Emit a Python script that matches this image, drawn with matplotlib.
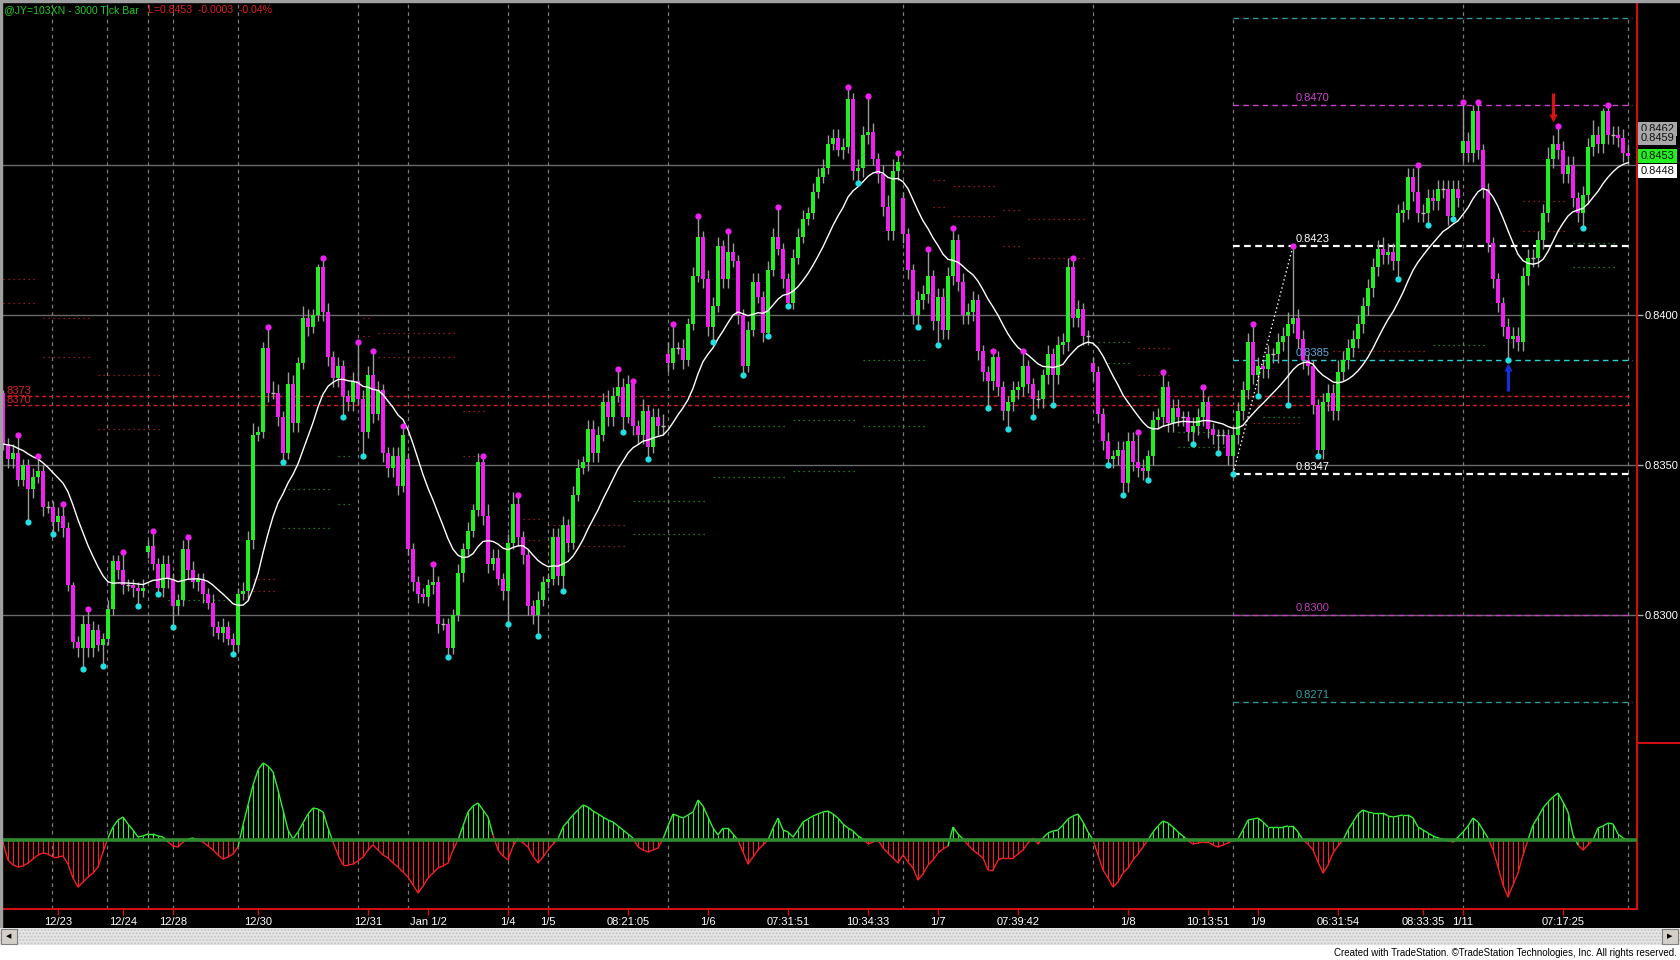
import numpy as np
import pandas as pd
import matplotlib
matplotlib.use("Agg")
import matplotlib.pyplot as plt
from matplotlib.collections import LineCollection
from matplotlib.patches import Rectangle
from matplotlib.lines import Line2D

plt.rcParams['font.family'] = ['Liberation Sans', 'DejaVu Sans']

# ---------------- data ----------------
closes = [
    0.8357, 0.8352, 0.8354, 0.8345, 0.8350, 0.8342, 0.8346, 0.8348, 0.8336, 0.8336,
    0.8331, 0.8333, 0.8329, 0.8310, 0.8291, 0.8289, 0.8297, 0.8289, 0.8295, 0.8290,
    0.8292, 0.8302, 0.8318, 0.8315, 0.8310, 0.8310, 0.8309, 0.8308, 0.8309, 0.8323,
    0.8317, 0.8309, 0.8317, 0.8312, 0.8303, 0.8305, 0.8322, 0.8315, 0.8311, 0.8312,
    0.8307, 0.8304, 0.8296, 0.8294, 0.8296, 0.8292, 0.8290, 0.8307, 0.8308, 0.8325,
    0.8360, 0.8361, 0.8389, 0.8374, 0.8374, 0.8366, 0.8354, 0.8377, 0.8364, 0.8384,
    0.8399, 0.8396, 0.8400, 0.8416, 0.8401, 0.8386, 0.8379, 0.8383, 0.8373, 0.8371,
    0.8378, 0.8372, 0.8361, 0.8380, 0.8367, 0.8375, 0.8354, 0.8349, 0.8353, 0.8343,
    0.8360, 0.8322, 0.8311, 0.8307, 0.8306, 0.8310, 0.8311, 0.8297, 0.8297, 0.8289,
    0.8300, 0.8314, 0.8322, 0.8328, 0.8335, 0.8351, 0.8333, 0.8317, 0.8319, 0.8312,
    0.8308, 0.8324, 0.8337, 0.8326, 0.8320, 0.8303, 0.8300, 0.8305, 0.8311, 0.8312,
    0.8326, 0.8313, 0.8330, 0.8324, 0.8340, 0.8349, 0.8351, 0.8362, 0.8354, 0.8360,
    0.8371, 0.8366, 0.8373, 0.8376, 0.8366, 0.8377, 0.8363, 0.8360, 0.8368, 0.8356,
    0.8366, 0.8363, 0.8363, 0.8384, 0.8389, 0.8389, 0.8385, 0.8397, 0.8413, 0.8426,
    0.8412, 0.8396, 0.8403, 0.8423, 0.8412, 0.8421, 0.8418, 0.8400, 0.8383, 0.8395,
    0.8411, 0.8406, 0.8394, 0.8415, 0.8426, 0.8422, 0.8412, 0.8404, 0.8419, 0.8426,
    0.8432, 0.8434, 0.8441, 0.8446, 0.8449, 0.8457, 0.8459, 0.8455, 0.8456, 0.8472,
    0.8448, 0.8449, 0.8460, 0.8461, 0.8452, 0.8447, 0.8436, 0.8428, 0.8448, 0.8451,
    0.8427, 0.8415, 0.8400, 0.8405, 0.8407, 0.8413, 0.8398, 0.8406, 0.8395, 0.8413,
    0.8425, 0.8411, 0.8400, 0.8401, 0.8405, 0.8388, 0.8381, 0.8378, 0.8386, 0.8376,
    0.8368, 0.8371, 0.8375, 0.8376, 0.8383, 0.8377, 0.8372, 0.8372, 0.8380, 0.8387,
    0.8380, 0.8390, 0.8391, 0.8416, 0.8399, 0.8402, 0.8393, 0.8393, 0.8381, 0.8367,
    0.8358, 0.8352, 0.8353, 0.8355, 0.8344, 0.8358, 0.8351, 0.8349, 0.8348, 0.8353,
    0.8365, 0.8366, 0.8376, 0.8364, 0.8369, 0.8366, 0.8366, 0.8361, 0.8363, 0.8366,
    0.8371, 0.8362, 0.8360, 0.8360, 0.8360, 0.8353, 0.8360, 0.8368, 0.8375, 0.8391,
    0.8380, 0.8383, 0.8382, 0.8387, 0.8387, 0.8391, 0.8393, 0.8397, 0.8399, 0.8392,
    0.8385, 0.8383, 0.8370, 0.8355, 0.8371, 0.8374, 0.8368, 0.8381, 0.8385, 0.8389,
    0.8392, 0.8397, 0.8403, 0.8409, 0.8416, 0.8422, 0.8420, 0.8421, 0.8418, 0.8434,
    0.8435, 0.8446, 0.8441, 0.8434, 0.8434, 0.8439, 0.8438, 0.8442, 0.8442, 0.8433,
    0.8442, 0.8439, 0.8458, 0.8454, 0.8468, 0.8455, 0.8442, 0.8424, 0.8412, 0.8404,
    0.8396, 0.8392, 0.8393, 0.8391, 0.8413, 0.8419, 0.8419, 0.8425, 0.8434, 0.8452,
    0.8457, 0.8455, 0.8447, 0.8450, 0.8439, 0.8434, 0.8440, 0.8456, 0.8460, 0.8457,
    0.8468, 0.8460, 0.8460, 0.8459, 0.8454, 0.8453,
]
# session-start bars whose open differs from the prior close
gap_opens = {0: 0.8374, 29: 0.8321, 81: 0.8352, 133: 0.8387, 180: 0.8439, 218: 0.8384, 292: 0.8454}

# wick lengths in pips (0.0001)
wick_up = [
    1,2,3,6,2,2,3,5,2,2, 2,3,4,2,1,2,3,5,3,2,
    2,3,2,2,6,2,2,2,3,2, 5,2,3,3,2,2,3,4,3,2,
    2,2,3,2,3,2,2,2,3,3, 4,2,2,7,4,3,2,4,3,2,
    4,3,2,1,3,3,2,3,2,2, 3,13,3,3,8,3,2,2,3,3,
    3,2,2,2,2,2,6,2,2,2, 2,3,2,3,2,3,2,4,3,3,
    2,3,4,3,2,2,2,3,2,2, 3,3,3,2,3,3,2,3,3,3,
    3,4,3,6,3,3,1,2,4,2, 3,3,4,4,8,2,3,2,3,7,
    2,3,3,3,2,7,3,2,2,3, 3,3,2,3,3,10,2,2,3,3,
    3,2,3,3,3,3,3,3,3,4, 2,3,3,12,3,2,3,4,4,3,
    2,2,2,3,3,9,2,3,3,3, 4,2,3,3,3,2,2,2,2,2,
    2,2,3,2,5,2,2,3,2,3, 2,3,3,3,3,3,2,2,2,2,
    2,3,2,3,3,3,3,10,3,2, 3,3,5,2,3,3,2,2,3,3,
    5,2,2,2,2,2,3,3,3,3, 6,3,2,3,2,3,3,4,24,3,
    3,2,2,2,3,3,3,4,3,3, 3,3,3,3,3,3,4,3,3,3,
    3,3,3,9,3,3,3,3,3,3, 3,3,13,3,2,3,2,2,2,2,
    2,3,3,3,3,3,3,3,3,4, 3,6,3,3,3,2,3,3,5,3,
    1,2,3,3,3,3,
]
wick_dn = [
    2,3,3,2,2,11,3,2,3,2, 4,3,3,2,2,3,7,3,3,2,
    7,2,2,3,3,2,3,5,2,2, 2,2,3,3,7,3,2,3,2,3,
    3,2,3,2,3,2,3,2,2,3, 3,2,2,3,2,3,3,2,3,3,
    2,3,2,2,3,3,3,3,7,3, 3,2,8,2,3,2,3,3,3,3,
    2,2,3,3,2,3,3,3,2,3, 2,2,3,2,2,2,3,3,2,2,
    3,11,2,3,3,3,3,7,2,2, 2,3,5,3,2,2,2,3,3,3,
    2,3,3,2,5,2,3,3,3,4, 2,3,3,3,2,2,3,2,2,2,
    3,3,5,2,3,3,2,3,3,2, 2,2,3,1,2,2,3,1,2,2,
    2,2,2,2,2,2,2,2,3,2, 3,4,3,3,2,3,3,3,3,3,
    3,3,3,4,3,3,3,8,3,3, 3,3,3,3,3,3,3,9,3,3,
    3,6,3,3,3,3,6,3,3,3, 10,3,3,3,3,3,3,3,3,3,
    3,2,3,3,4,3,3,3,3,3, 3,3,3,3,3,3,3,3,4,3,
    3,3,3,6,3,3,6,3,3,3, 3,7,3,3,3,3,3,23,3,3,
    3,3,3,2,3,3,3,3,3,3, 3,3,3,3,3,3,3,3,3,6,
    3,3,3,3,3,4,3,3,3,3, 1,3,3,3,3,3,3,3,3,3,
    3,7,3,3,3,3,3,3,3,3, 3,3,3,3,3,3,5,3,3,3,
    3,3,3,3,3,3,
]

pivot_highs = [3, 7, 12, 17, 24, 30, 37, 53, 64, 71, 74, 80, 86, 96, 103, 123, 126, 134, 139,
               145, 155, 169, 173, 179, 185, 190, 198, 204, 214, 227, 232, 240, 250, 258, 283,
               292, 295, 311, 321]
pivot_lows = [5, 10, 16, 20, 27, 31, 34, 46, 56, 68, 72, 89, 101, 107, 112, 124, 129, 142, 148,
              153, 157, 171, 183, 187, 197, 201, 206, 210, 221, 224, 229, 238, 243, 246, 251,
              257, 263, 279, 285, 290, 301, 316]

# oscillator (lower pane)
osc = [
    -3,-20,-25,-27,-26,-23,-19,-15,-13,-14,
    -17,-17,-16,-24,-38,-47,-42,-37,-33,-27,
    -12,2,13,20,23,16,10,3,4,6,
    6,4,3,-2,-6,-7,-2,1,2,0,
    -2,-6,-10,-15,-19,-17,-14,-7,15,35,
    55,70,77,74,68,50,30,10,1,8,
    17,26,32,31,28,12,-2,-15,-25,-25,
    -24,-21,-17,-10,-5,-10,-15,-18,-23,-27,
    -32,-37,-45,-53,-46,-38,-33,-28,-26,-23,
    -10,0,14,28,34,37,30,23,5,-10,
    -16,-20,-6,2,-3,-7,-16,-23,-17,-10,
    -4,1,13,19,25,30,35,33,29,26,
    23,20,18,14,10,6,2,-7,-10,-12,
    -10,-8,1,14,26,24,22,25,28,40,
    34,23,12,5,12,12,6,0,-12,-24,
    -17,-10,-5,0,12,22,10,8,3,10,
    18,21,24,26,28,29,26,22,16,12,
    9,4,1,-4,-2,0,-8,-13,-18,-23,
    -15,-22,-28,-40,-34,-25,-20,-13,-9,-6,
    13,6,1,-5,-10,-14,-18,-30,-30,-20,
    -18,-18,-18,-14,-10,-3,2,-4,2,7,
    9,10,15,21,24,26,18,8,0,-15,
    -30,-38,-47,-42,-33,-28,-20,-14,-7,0,
    8,14,19,17,13,8,4,-1,-4,-3,
    -2,-2,-5,-7,-5,-3,0,1,10,20,
    21,22,18,13,13,13,13,14,14,8,
    0,-4,-10,-22,-33,-25,-13,-6,0,10,
    18,26,30,28,27,27,27,24,23,24,
    25,25,22,13,10,7,4,2,1,-1,
    -2,3,8,14,22,18,10,2,-10,-27,
    -45,-57,-45,-33,-15,0,15,23,32,38,
    43,47,38,28,5,-5,-10,-5,0,12,
    14,17,16,6,2,0,
]

# small dotted support/resistance segments
lvl_start = [0, 0, 8, 8, 19, 19, 33, 50, 50, 56, 56, 67, 67, 72, 72, 75, 75, 92, 92, 104, 104,
             109, 109, 126, 126, 142, 142, 158, 158, 172, 172, 186, 186, 190, 190, 200, 200,
             205, 205, 219, 221, 227, 227, 235, 235, 250, 252, 266, 286, 304, 304, 314, 314]
lvl_end = [7, 7, 18, 18, 32, 32, 46, 55, 55, 66, 66, 70, 70, 74, 74, 91, 91, 97, 97, 108, 108,
           125, 125, 141, 141, 157, 157, 171, 171, 185, 185, 189, 189, 199, 199, 204, 204,
           217, 217, 226, 226, 234, 234, 245, 245, 260, 260, 285, 297, 313, 313, 323, 323]
lvl_price = [0.8412, 0.8404, 0.8399, 0.8386, 0.8380, 0.8362, 0.8305, 0.8312, 0.8308, 0.8342,
             0.8329, 0.8353, 0.8337, 0.8399, 0.8393, 0.8394, 0.8386, 0.8368, 0.8353, 0.8332,
             0.8325, 0.8330, 0.8323, 0.8338, 0.8327, 0.8363, 0.8346, 0.8365, 0.8348, 0.8385,
             0.8363, 0.8445, 0.8436, 0.8443, 0.8433, 0.8435, 0.8423, 0.8432, 0.8419, 0.8391,
             0.8384, 0.8389, 0.8380, 0.8361, 0.8356, 0.8364, 0.8366, 0.8388, 0.8390, 0.8438,
             0.8428, 0.8424, 0.8416]
lvl_kind = ['r', 'r', 'r', 'r', 'r', 'r', 'g', 'r', 'r', 'g', 'g', 'g', 'g', 'r', 'r', 'r', 'r',
            'r', 'r', 'r', 'r', 'r', 'r', 'g', 'g', 'g', 'g', 'g', 'g', 'g', 'g', 'r', 'r', 'r',
            'r', 'r', 'r', 'r', 'r', 'g', 'g', 'r', 'r', 'g', 'g', 'r', 'g', 'r', 'g', 'r', 'r',
            'g', 'g']

# Fibonacci projection
fib_prices = [0.8499, 0.8470, 0.8423, 0.8385, 0.8347, 0.8300, 0.8271]
fib_labels = ['', '0.8470', '0.8423', '0.8385', '0.8347', '0.8300', '0.8271']
red_levels = [0.8373, 0.8370]
red_level_labels = ['8373', '8370']

# right-axis price tags
tag_prices = [0.8462, 0.8459, 0.8453, 0.8448]

# signal arrows: (bar, price at tail, price at tip)
sell_arrow = (310, 0.84740, 0.84655)
buy_arrow = (301, 0.83745, 0.83825)

day_lines = [9.8, 20.8, 29, 34, 47, 71, 81, 101, 109, 133, 180, 218, 292]
xtick_idx = [11, 24, 34, 51, 73, 85, 101, 109, 125, 141, 157, 173, 187, 203, 225, 241, 251, 267, 284, 292, 312]
xtick_labels = ['12/23', '12/24', '12/28', '12/30', '12/31', 'Jan 1/2', '1/4', '1/5', '08:21:05',
                '1/6', '07:31:51', '10:34:33', '1/7', '07:39:42', '1/8', '10:13:51', '1/9',
                '06:31:54', '08:33:35', '1/11', '07:17:25']

assert len(closes) == len(wick_up) == len(wick_dn) == len(osc), (len(closes), len(wick_up), len(wick_dn), len(osc))

# ---------------- figure ----------------
W, H = 1680, 960
fig = plt.figure(figsize=(W / 100, H / 100), dpi=100, facecolor='black')


def fx(px):
    return px / W


def fy(py):
    return 1 - py / H


ax = fig.add_axes([0, fy(743), fx(1637), 743 / H], facecolor='black')
axi = fig.add_axes([0, fy(909), fx(1637), (909 - 743) / H], facecolor='black')

n = len(closes)
idx = np.arange(n)
XL = (-0.6, 326.8)
YL = (0.825733, 0.8505)

c = np.array(closes)
o = np.r_[c[0], c[:-1]]
for k, v in gap_opens.items():
    o[k] = v
hi = np.maximum(o, c) + np.array(wick_up) * 1e-4
lo = np.minimum(o, c) - np.array(wick_dn) * 1e-4

GRID_DASH = (0, (3, 3))
# grid
for p in [0.8300, 0.8350, 0.8400, 0.8450]:
    ax.axhline(p, color='#6a6a6a', lw=1, zorder=1)
for d in day_lines:
    ax.axvline(d, color='#7a7a7a', lw=0.9, ls=GRID_DASH, zorder=1)
    axi.axvline(d, color='#7a7a7a', lw=0.9, ls=GRID_DASH, zorder=1)
ax.vlines([246, 325], YL[0], fib_prices[0], color='#7a7a7a', lw=0.9, ls=GRID_DASH, zorder=1)
for d in [246, 325]:
    axi.axvline(d, color='#7a7a7a', lw=0.9, ls=GRID_DASH, zorder=1)

# red levels
for p, lab in zip(red_levels, red_level_labels):
    ax.hlines(p, XL[0], 325.8, color='#cc2020', lw=1, ls=(0, (3, 2)), zorder=2)
    ax.text(0.8, p, lab, color='#dd2222', fontsize=8, va='bottom', ha='left', zorder=7)

# dotted S/R segments
for s, e, p, k in zip(lvl_start, lvl_end, lvl_price, lvl_kind):
    ax.hlines(p, s, e, color='#c02020' if k == 'r' else '#22a022', lw=0.9,
              ls=(0, (1, 3)), zorder=2)

# fib
fib_line_colors = ['#2a9a9a', '#d040d0', '#ffffff', '#30d0d0', '#ffffff', '#c040c0', '#2a9a9a']
fib_text_colors = ['#2a9a9a', '#d040d0', '#ffffff', '#5fa8e0', '#ffffff', '#c040c0', '#30a0a0']
for p, lab, lc, tc in zip(fib_prices, fib_labels, fib_line_colors, fib_text_colors):
    white = lc == '#ffffff'
    ax.hlines(p, 246, 325.8, color=lc, lw=1.6 if white else 1.0,
              ls=(0, (3, 2)) if white else (0, (4, 3)), zorder=2)
    if lab:
        ax.annotate(lab, xy=(258.6, p), xytext=(0, 1.2), textcoords='offset points',
                    color=tc, fontsize=8, va='bottom', ha='left', zorder=7)
ax.plot([246, 258], [fib_prices[4], fib_prices[2]], color='white', lw=1, ls=(0, (1, 2)), zorder=5)

# candles
ax.vlines(idx, lo, hi, color='#9a9a9a', lw=1, zorder=3)
up = c > o + 1e-9
dn = c < o - 1e-9
flat = ~(up | dn)
BW = 0.7
ax.bar(idx[up], (c - o)[up], bottom=o[up], width=BW, color='#22ee22', linewidth=0, zorder=4)
ax.bar(idx[dn], (c - o)[dn], bottom=o[dn], width=BW, color='#ee22ee', linewidth=0, zorder=4)
ax.hlines(c[flat], idx[flat] - BW / 2, idx[flat] + BW / 2, color='#bbbbbb', lw=1, zorder=4)

# moving average
ma = pd.Series(c).ewm(span=15, adjust=False).mean().ewm(span=3, adjust=False).mean()
ax.plot(idx, ma.values, color='white', lw=1, zorder=5)

# pivot dots
ph = np.array(pivot_highs)
pl = np.array(pivot_lows)
ax.plot(ph, hi[ph], 'o', color='#ee22ee', ms=4.5, mec='none', zorder=6)
ax.plot(pl, lo[pl], 'o', color='#22e0e0', ms=4.5, mec='none', zorder=6)

# arrows
for (bx, p0, p1), col, mk in [(sell_arrow, '#e01010', 'v'), (buy_arrow, '#1030e0', '^')]:
    ax.plot([bx, bx], [p0, p1], color=col, lw=2.2, solid_capstyle='butt', zorder=7)
    ax.plot([bx], [p1], marker=mk, color=col, ms=5.5, mec='none', zorder=7)

ax.set_xlim(XL)
ax.set_ylim(YL)
ax.set_xticks([])
ax.yaxis.tick_right()
ax.set_yticks([0.8300, 0.8350, 0.8400])
ax.set_yticklabels(['0.8300', '0.8350', '0.8400'])
ax.tick_params(axis='y', colors='#b0b0b0', labelcolor='white', length=4, width=1, pad=1.2, labelsize=8)
for s in ['top', 'left', 'bottom']:
    ax.spines[s].set_visible(False)
ax.spines['right'].set_color('#d01010')
ax.spines['right'].set_linewidth(1.5)

# price tags
tag_face = ['#a8a8a8', '#a8a8a8', '#22ee22', '#ffffff']
tr = ax.get_yaxis_transform()
for p, fc in zip(tag_prices, tag_face):
    ax.annotate(f'{p:.4f}', xy=(1, p), xycoords=tr, xytext=(2.3, 0), textcoords='offset points',
                va='center', ha='left', fontsize=8, color='#101010', annotation_clip=False,
                bbox=dict(boxstyle='square,pad=0.22', fc=fc, ec='none'), zorder=10)

# oscillator pane
v = np.array(osc, dtype=float)
pos_c, neg_c = '#33ee33', '#ee2222'
axi.vlines(idx, 0, v, colors=np.where(v >= 0, pos_c, neg_c), lw=0.8, zorder=3)
segs = [[(idx[k], v[k]), (idx[k + 1], v[k + 1])] for k in range(n - 1)]
segc = [pos_c if (v[k] + v[k + 1]) >= 0 else neg_c for k in range(n - 1)]
axi.add_collection(LineCollection(segs, colors=segc, lw=1, zorder=4))
axi.axhline(0, color='#2e8b2e', lw=2.6, zorder=5)
axi.set_xlim(XL)
axi.set_ylim(-69, 97)
axi.set_yticks([])
axi.set_xticks(xtick_idx)
axi.set_xticklabels(xtick_labels)
axi.tick_params(axis='x', colors='#d01010', labelcolor='white', length=4.3, width=1, pad=1.5, labelsize=8)
for s in ['top', 'left']:
    axi.spines[s].set_visible(False)
for s in ['right', 'bottom']:
    axi.spines[s].set_color('#d01010')
    axi.spines[s].set_linewidth(1.5)

fig.add_artist(Line2D([fx(1637), fx(1680)], [fy(743), fy(743)], color='#d01010', lw=1.5))

# title
fig.text(fx(4), fy(10), '@JY=103XN - 3000 Tick Bar', color='#22cc22', fontsize=7.6, va='center', ha='left')
fig.text(fx(148), fy(10), 'L=0.8453  -0.0003  -0.04%', color='#dd2222', fontsize=7.6, va='center', ha='left')

# window borders
fig.add_artist(Rectangle((0, fy(928)), fx(2), 928 / H, transform=fig.transFigure, color='#a0a0a0', zorder=20))
fig.add_artist(Rectangle((0, fy(1.5)), 1, 1.5 / H, transform=fig.transFigure, color='#a0a0a0', zorder=20))

# scrollbar + white footer
fig.add_artist(Rectangle((0, 0), 1, fy(945), transform=fig.transFigure, color='white', zorder=20))
fig.add_artist(Rectangle((0, fy(945)), 1, 17 / H, transform=fig.transFigure, facecolor='#e6e6e6',
                         edgecolor='#c4c4c4', hatch='.....', lw=0, zorder=20))
for x0 in [1, 1662]:
    fig.add_artist(Rectangle((fx(x0), fy(944)), fx(16), 15 / H, transform=fig.transFigure,
                             facecolor='#d4d0c8', edgecolor='#808080', lw=0.8, zorder=21))
fig.text(fx(9), fy(936.5), '\u25c0', fontsize=5, color='black', ha='center', va='center', zorder=22,
         family='DejaVu Sans')
fig.text(fx(1670), fy(936.5), '\u25b6', fontsize=5, color='black', ha='center', va='center', zorder=22,
         family='DejaVu Sans')
fig.text(fx(1677), fy(953), 'Created with TradeStation. \u00a9TradeStation Technologies, Inc. All rights reserved.',
         ha='right', va='center', fontsize=7, color='black', zorder=22)

fig.savefig('out.png', dpi=100, facecolor='black')
